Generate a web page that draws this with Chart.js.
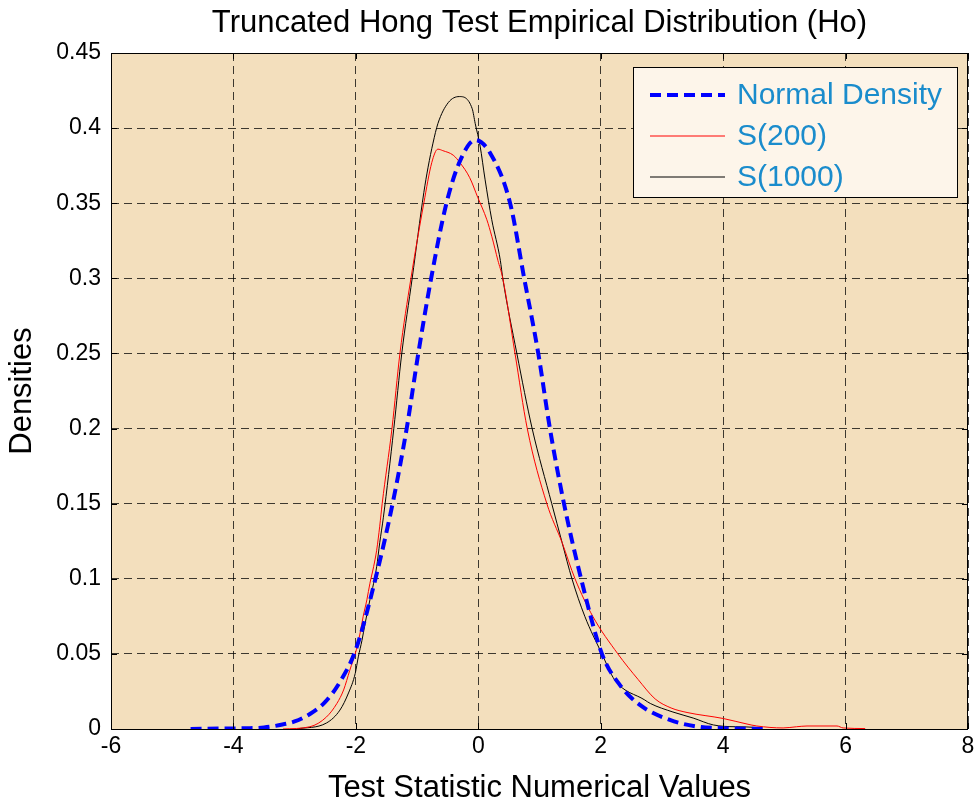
<!DOCTYPE html>
<html lang="en">
<head>
<meta charset="UTF-8">
<title>Truncated Hong Test Empirical Distribution</title>
<script src="https://cdn.jsdelivr.net/npm/chart.js@4.4.1/dist/chart.umd.min.js"></script>
<style>
  html, body { margin: 0; padding: 0; background: #fff; }
  #wrap { width: 980px; height: 811px; }
</style>
</head>
<body>
<div id="wrap"><canvas id="chart"></canvas></div>
<script>
// values
const normalX = [-4.7, -4.2, -3.8, -3.5, -3.2, -3.0, -2.75, -2.5, -2.25, -2.0, -1.68, -1.4, -1.17, -0.98, -0.77, -0.52, -0.3, -0.05, 0.2, 0.52, 0.75, 0.98, 1.17, 1.4, 1.68, 2.02, 2.3, 2.64, 3.13, 3.6, 4.0, 4.65]
const normalY = [0, 0.0003, 0.0005, 0.001, 0.003, 0.005, 0.01, 0.018, 0.032, 0.053, 0.1, 0.15, 0.2, 0.25, 0.3, 0.35, 0.378, 0.392, 0.383, 0.35, 0.3, 0.25, 0.2, 0.15, 0.1, 0.05, 0.03, 0.016, 0.006, 0.0015, 0.0005, 0]

const s200X = [-3.19, -2.75, -2.48, -2.31, -2.2, -2.1, -1.99, -1.93, -1.88, -1.82, -1.77, -1.71, -1.66, -1.61, -1.57, -1.41, -1.28, -1.1, -0.89, -0.76, -0.66, -0.58, -0.41, -0.3, -0.14, -0.01, 0.14, 0.22, 0.32, 0.4, 0.6, 0.8, 1.12, 1.37, 1.58, 1.87, 2.28, 2.61, 2.89, 3.15, 3.41, 4.0, 4.39, 4.55, 4.98, 5.2, 5.37, 5.86, 5.96, 6.32]
const s200Y = [0, 0.0015, 0.008, 0.017, 0.026, 0.039, 0.053, 0.064, 0.075, 0.086, 0.097, 0.108, 0.119, 0.135, 0.15, 0.2, 0.25, 0.3, 0.35, 0.377, 0.386, 0.385, 0.382, 0.377, 0.367, 0.354, 0.339, 0.328, 0.312, 0.3, 0.25, 0.2, 0.15, 0.124, 0.1, 0.075, 0.05, 0.033, 0.02, 0.014, 0.011, 0.007, 0.0033, 0.002, 0.0007, 0.0015, 0.002, 0.002, 0.0007, 0.0003]

const s1000X = [-2.97, -2.48, -2.26, -2.12, -2.01, -1.96, -1.9, -1.85, -1.77, -1.71, -1.66, -1.61, -1.55, -1.38, -1.25, -1.08, -0.89, -0.82, -0.74, -0.66, -0.49, -0.31, -0.1, -0.05, 0.03, 0.11, 0.22, 0.36, 0.4, 0.63, 0.88, 1.2, 1.37, 1.53, 1.74, 2.02, 2.23, 2.72, 2.81, 3.18, 3.51, 3.84, 4.2, 4.55, 4.6]
const s1000Y = [0, 0.004, 0.0126, 0.024, 0.037, 0.048, 0.059, 0.07, 0.086, 0.097, 0.108, 0.124, 0.141, 0.2, 0.25, 0.3, 0.357, 0.374, 0.39, 0.403, 0.417, 0.421, 0.413, 0.403, 0.388, 0.366, 0.339, 0.312, 0.3, 0.25, 0.2, 0.15, 0.124, 0.1, 0.075, 0.05, 0.0326, 0.0193, 0.017, 0.0113, 0.0073, 0.0027, 0.0015, 0.001, 0]

const xTicks = [-6, -4, -2, 0, 2, 4, 6, 8]
const yTicks = [0, 0.05, 0.1, 0.15, 0.2, 0.25, 0.3, 0.35, 0.4, 0.45]
const chartTitle = "Truncated Hong Test Empirical Distribution (Ho)"

function pts(xs, ys) {
    return xs.map((x, i) => ({x: x, y: ys[i]}))
}

const FONT = "'Liberation Sans', Arial, sans-serif"

// wheat plot area, box with inward ticks, title over the axes, legend
const boxPlugin = {
    id: "box",
    beforeDraw(chart) {
        const a = chart.chartArea, ctx = chart.ctx
        ctx.save()
        ctx.fillStyle = "#f3dfbd"
        ctx.fillRect(a.left, a.top, a.right - a.left, a.bottom - a.top)
        ctx.fillStyle = "#000"
        ctx.font = "31px " + FONT
        ctx.textAlign = "center"
        ctx.textBaseline = "middle"
        ctx.fillText(chartTitle, (a.left + a.right) / 2, 23)
        ctx.restore()
    },
    afterDatasetsDraw(chart) {
        const a = chart.chartArea, ctx = chart.ctx
        const xs = chart.scales.x, ys = chart.scales.y
        ctx.save()
        ctx.strokeStyle = "#000"
        ctx.lineWidth = 1
        ctx.setLineDash([])
        ctx.strokeRect(a.left + 0.5, a.top + 0.5, a.right - a.left - 1, a.bottom - a.top)
        ctx.beginPath()
        xTicks.forEach(v => {
            const p = Math.round(xs.getPixelForValue(v)) + 0.5
            ctx.moveTo(p, a.bottom); ctx.lineTo(p, a.bottom - 6)
            ctx.moveTo(p, a.top); ctx.lineTo(p, a.top + 6)
        })
        yTicks.forEach(v => {
            const p = Math.round(ys.getPixelForValue(v)) + 0.5
            ctx.moveTo(a.left, p); ctx.lineTo(a.left + 6, p)
            ctx.moveTo(a.right, p); ctx.lineTo(a.right - 6, p)
        })
        ctx.stroke()

        // legend box, top right
        const lx = 633, ly = 67, lw = 324, lh = 130
        ctx.fillStyle = "#fdf5ea"
        ctx.fillRect(lx, ly, lw, lh)
        ctx.strokeRect(lx + 0.5, ly + 0.5, lw, lh)
        ctx.font = "30px " + FONT
        ctx.textBaseline = "middle"
        chart.data.datasets.forEach((d, i) => {
            const y = ly + 28 + i * 41
            ctx.beginPath()
            ctx.strokeStyle = d.borderColor
            ctx.lineWidth = d.borderWidth
            ctx.setLineDash(d.borderDash || [])
            ctx.moveTo(lx + 17, y); ctx.lineTo(lx + 92, y)
            ctx.stroke()
            ctx.setLineDash([])
            ctx.fillStyle = "#1a8ccc"
            ctx.fillText(d.label, lx + 104, y + 1)
        })
        ctx.restore()
    }
}

new Chart(document.getElementById("chart"), {
    type: "line",
    data: {
        datasets: [
            {label: "Normal Density", data: pts(normalX, normalY), borderColor: "#0000ff", borderWidth: 4, borderDash: [11, 6], cubicInterpolationMode: "monotone", pointRadius: 0, fill: false},
            {label: "S(200)", data: pts(s200X, s200Y), borderColor: "#ff0000", borderWidth: 1, cubicInterpolationMode: "monotone", pointRadius: 0, fill: false},
            {label: "S(1000)", data: pts(s1000X, s1000Y), borderColor: "#000000", borderWidth: 1, cubicInterpolationMode: "monotone", pointRadius: 0, fill: false}
        ]
    },
    options: {
        responsive: true,
        maintainAspectRatio: false,
        animation: false,
        layout: {padding: {top: 53, right: 12, bottom: 0, left: 0}},
        plugins: {
            legend: {display: false},
            tooltip: {enabled: false},
            title: {display: false}
        },
        scales: {
            x: {
                type: "linear",
                min: -6, max: 8,
                afterBuildTicks: s => { s.ticks = xTicks.map(v => ({value: v})) },
                afterFit: s => { s.height = 82 },
                ticks: {color: "#000", font: {family: FONT, size: 23}, padding: 4, maxRotation: 0},
                grid: {color: "rgba(0,0,0,0.75)", drawTicks: false, lineWidth: 1},
                border: {display: false, dash: [8, 5]},
                title: {display: true, text: "Test Statistic Numerical Values", color: "#000", font: {family: FONT, size: 31}, padding: {top: 2}}
            },
            y: {
                type: "linear",
                min: 0, max: 0.45,
                afterBuildTicks: s => { s.ticks = yTicks.map(v => ({value: v})) },
                afterFit: s => { s.width = 111 },
                ticks: {color: "#000", font: {family: FONT, size: 23}, padding: 10, callback: v => String(Number(v.toFixed(2)))},
                grid: {color: "rgba(0,0,0,0.75)", drawTicks: false, lineWidth: 1},
                border: {display: false, dash: [8, 5]},
                title: {display: true, text: "Densities", color: "#000", font: {family: FONT, size: 31}, padding: {bottom: 2}}
            }
        }
    },
    plugins: [boxPlugin]
})
</script>
</body>
</html>
